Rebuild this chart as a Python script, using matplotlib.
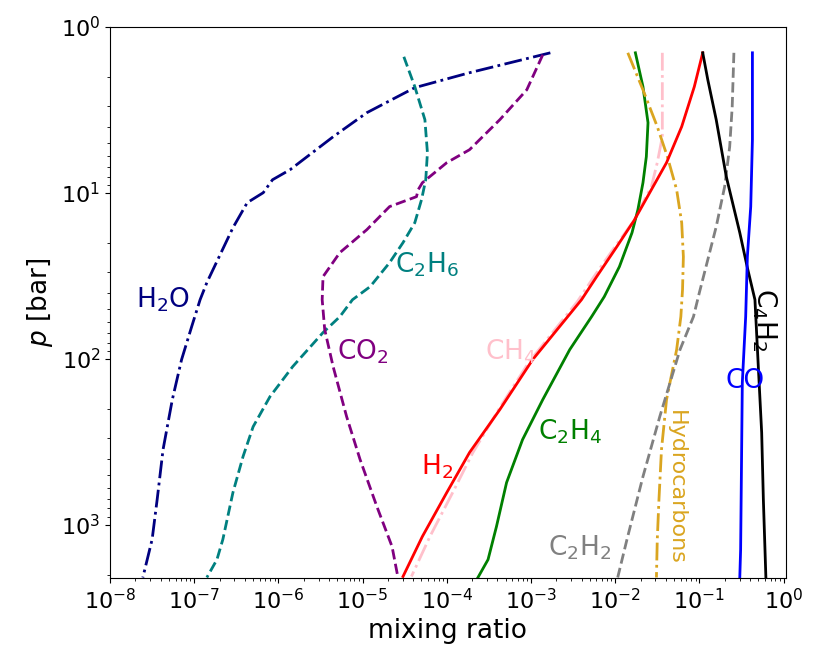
import numpy as np
import matplotlib
matplotlib.use("Agg")
import matplotlib.pyplot as plt

# log10 of mixing ratio (x) and log10 of pressure in bar (p)
h2o_x = [-2.77, -3.73, -4.38, -4.95, -5.35, -5.86, -6.07, -6.18, -6.37, -6.54, -6.85, -6.93,
         -7.03, -7.15, -7.26, -7.37, -7.44, -7.50, -7.61]
h2o_p = [0.157, 0.277, 0.367, 0.518, 0.663, 0.861, 0.922, 1.000, 1.060, 1.211, 1.542, 1.645,
         1.807, 2.006, 2.247, 2.548, 2.849, 3.090, 3.319]

c2h6_x = [-4.51, -4.38, -4.26, -4.23, -4.25, -4.30, -4.38, -4.52, -4.68, -4.91, -5.12, -5.27,
          -5.47, -5.83, -6.10, -6.30, -6.42, -6.54, -6.66, -6.73, -6.85]
c2h6_p = [0.181, 0.361, 0.560, 0.759, 0.922, 1.042, 1.181, 1.301, 1.422, 1.566, 1.645, 1.747,
          1.843, 2.048, 2.229, 2.410, 2.590, 2.807, 3.090, 3.211, 3.319]

co2_x = [-2.86, -3.05, -3.37, -3.73, -4.00, -4.29, -4.34, -4.36, -4.68, -4.95, -5.27, -5.47,
         -5.48, -5.45, -5.35, -5.19, -5.03, -4.83, -4.65, -4.58]
co2_p = [0.169, 0.380, 0.560, 0.741, 0.819, 0.940, 0.982, 1.024, 1.084, 1.223, 1.361, 1.506,
         1.645, 1.825, 2.048, 2.349, 2.608, 2.892, 3.133, 3.319]

h2_x = [-0.96, -1.06, -1.21, -1.39, -1.59, -1.77, -1.98, -2.22, -2.40, -2.98, -3.37, -3.73,
        -4.00, -4.29, -4.52]
h2_p = [0.157, 0.361, 0.602, 0.819, 1.000, 1.163, 1.325, 1.506, 1.645, 2.006, 2.307, 2.566,
        2.807, 3.072, 3.313]

ch4_x = [-1.44, -1.44, -1.44, -1.50, -1.57, -1.67, -1.77, -2.01, -2.26, -2.45, -3.02, -3.37,
         -3.69, -3.93, -4.20, -4.42]
ch4_p = [0.157, 0.482, 0.663, 0.819, 0.964, 1.060, 1.163, 1.331, 1.512, 1.657, 2.018, 2.295,
         2.566, 2.807, 3.072, 3.313]

c2h4_x = [-1.76, -1.67, -1.61, -1.63, -1.67, -1.73, -1.80, -1.95, -2.13, -2.28, -2.54, -2.86,
          -3.10, -3.29, -3.41, -3.51, -3.63]
c2h4_p = [0.157, 0.361, 0.578, 0.783, 0.940, 1.102, 1.241, 1.446, 1.627, 1.747, 1.946, 2.247,
          2.488, 2.747, 3.012, 3.211, 3.319]

hc_x = [-1.85, -1.67, -1.50, -1.38, -1.27, -1.21, -1.19, -1.20, -1.22, -1.27, -1.39, -1.45,
        -1.48, -1.50, -1.51]
hc_p = [0.157, 0.380, 0.602, 0.783, 0.982, 1.181, 1.386, 1.584, 1.747, 1.946, 2.247, 2.548,
        2.849, 3.090, 3.319]

c2h2_x = [-0.59, -0.61, -0.64, -0.70, -0.80, -0.90, -1.00, -1.07, -1.23, -1.47, -1.67, -1.86, -1.97]
c2h2_p = [0.157, 0.482, 0.723, 0.964, 1.205, 1.404, 1.602, 1.747, 1.946, 2.349, 2.711, 3.090, 3.319]

c4h2_x = [-0.96, -0.90, -0.80, -0.68, -0.52, -0.43, -0.34, -0.30, -0.26, -0.24, -0.21]
c4h2_p = [0.157, 0.319, 0.560, 0.904, 1.241, 1.452, 1.645, 2.048, 2.446, 2.849, 3.319]

co_x = [-0.37, -0.37, -0.39, -0.43, -0.45, -0.49, -0.50, -0.51, -0.52]
co_p = [0.157, 0.681, 1.084, 1.386, 1.747, 2.145, 2.651, 3.151, 3.319]

plt.rcParams['font.size'] = 19
plt.rcParams['xtick.labelsize'] = 16
plt.rcParams['ytick.labelsize'] = 16

fig = plt.figure(figsize=(8.21, 6.69), dpi=100)
ax = fig.add_axes([0.134, 0.136, 0.823, 0.824])

def draw(xs, ps, color, ls):
    ax.plot(10**np.array(xs), 10**np.array(ps), color=color, ls=ls, lw=2)

draw(h2o_x, h2o_p, 'navy', '-.')
draw(c2h6_x, c2h6_p, 'teal', '--')
draw(co2_x, co2_p, 'purple', '--')
draw(ch4_x, ch4_p, 'pink', '-.')
draw(c2h4_x, c2h4_p, 'green', '-')
draw(hc_x, hc_p, 'goldenrod', '-.')
draw(c2h2_x, c2h2_p, 'gray', '--')
draw(h2_x, h2_p, 'red', '-')
draw(c4h2_x, c4h2_p, 'black', '-')
draw(co_x, co_p, 'blue', '-')

# labels
ax.text(10**-7.37, 10**1.645, r'H$_2$O', color='navy', ha='center', va='center')
ax.text(10**-4.23, 10**1.434, r'C$_2$H$_6$', color='teal', ha='center', va='center')
ax.text(10**-5.0, 10**1.958, r'CO$_2$', color='purple', ha='center', va='center')
ax.text(10**-3.24, 10**1.958, r'CH$_4$', color='pink', ha='center', va='center')
ax.text(10**-4.12, 10**2.651, r'H$_2$', color='red', ha='center', va='center')
ax.text(10**-2.54, 10**2.44, r'C$_2$H$_4$', color='green', ha='center', va='center')
ax.text(10**-2.42, 10**3.139, r'C$_2$H$_2$', color='gray', ha='center', va='center')
ax.text(10**-1.28, 10**2.777, 'Hydrocarbons', color='goldenrod', ha='center', va='center',
        rotation=-90, fontsize=16)
ax.text(10**-0.463, 10**2.133, 'CO', color='blue', ha='center', va='center')
ax.text(10**-0.226, 10**1.765, r'C$_4$H$_2$', color='black', ha='center', va='center', rotation=-90)

ax.set_xscale('log')
ax.set_yscale('log')
ax.set_xlim(1e-8, 1.06)
ax.set_ylim(2100, 1)
ax.set_xticks([10.0**k for k in range(-8, 1)])
ax.set_xlabel('mixing ratio')
ax.set_ylabel(r'$p$ [bar]')

fig.savefig('out.png', dpi=100)
